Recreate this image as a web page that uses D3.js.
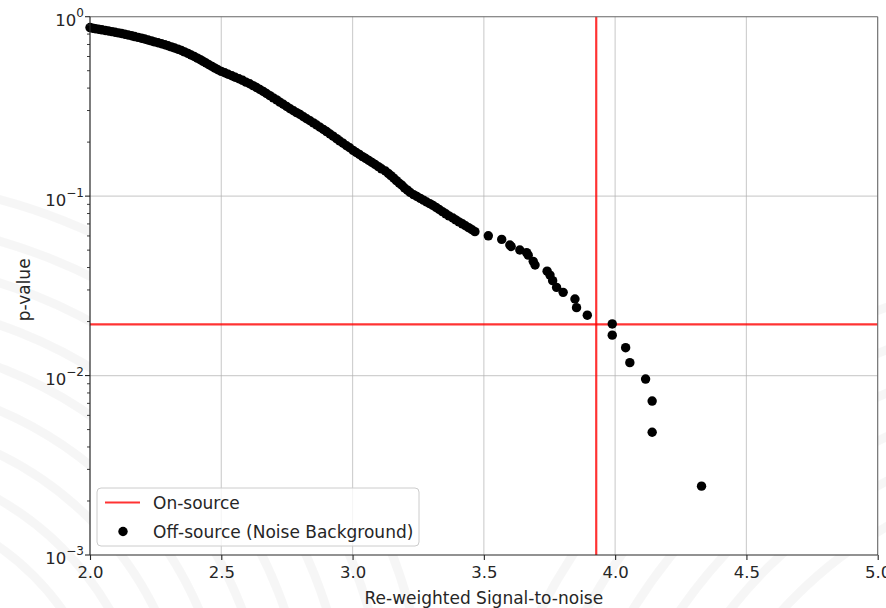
<!DOCTYPE html>
<html><head><meta charset="utf-8">
<script src="https://cdn.jsdelivr.net/npm/d3@7"></script>
<style>html,body{margin:0;padding:0;background:#fff;}svg{display:block;font-family:"DejaVu Sans",sans-serif;}</style>
</head><body>
<svg id="chart" width="886" height="608"></svg>
<script>
// Off-source (noise background) points: re-weighted SNR and p-value
const snrValues = [
2.000,2.010,2.020,2.032,2.045,2.058,2.070,2.083,2.095,2.108,2.120,
2.132,2.145,2.158,2.170,2.183,2.196,2.208,2.221,2.234,2.246,
2.259,2.272,2.285,2.297,2.310,2.322,2.335,2.348,2.360,2.373,
2.385,2.397,2.409,2.420,2.431,2.442,2.453,2.465,2.476,2.487,
2.500,2.513,2.526,2.540,2.553,2.567,2.581,2.594,2.608,2.621,
2.634,2.647,2.660,2.672,2.685,2.698,2.711,2.723,2.736,2.749,
2.762,2.775,2.787,2.800,2.813,2.825,2.838,2.851,2.863,2.876,
2.889,2.901,2.914,2.926,2.939,2.951,2.964,2.977,2.989,3.002,
3.014,3.026,3.038,3.050,3.062,3.074,3.086,3.098,3.110,
3.125,3.136,3.146,3.157,3.167,3.178,3.188,3.198,3.209,3.219,
3.232,3.245,3.258,3.270,3.282,3.294,3.306,
3.318,3.330,3.342,3.355,3.367,
3.382,3.393,3.405,3.418,3.430,3.442,3.455,3.466,
3.517,3.568,3.599,3.604,3.637,3.663,3.669,3.688,3.695,3.741,3.752,3.762,3.777,3.802,
3.847,3.853,3.894,3.989,3.989,4.040,4.056,4.116,4.141,4.141,4.329
];
const pValues = [
0.870,0.863,0.857,0.851,0.845,0.838,0.832,0.826,0.819,0.813,0.806,
0.799,0.791,0.783,0.775,0.767,0.759,0.751,0.742,0.733,0.724,
0.716,0.707,0.698,0.689,0.679,0.669,0.659,0.648,0.637,0.625,
0.612,0.600,0.588,0.576,0.564,0.552,0.540,0.528,0.517,0.506,
0.496,0.487,0.478,0.469,0.460,0.451,0.442,0.432,0.423,0.413,
0.403,0.393,0.383,0.373,0.363,0.353,0.344,0.334,0.325,0.316,
0.307,0.299,0.292,0.285,0.277,0.270,0.263,0.256,0.249,0.242,
0.235,0.229,0.222,0.216,0.209,0.203,0.197,0.191,0.186,0.180,
0.175,0.171,0.166,0.162,0.158,0.154,0.150,0.146,0.142,
0.138,0.134,0.130,0.126,0.122,0.118,0.115,0.111,0.108,0.105,
0.102,0.0995,0.0972,0.0950,0.0928,0.0908,0.0888,
0.0865,0.0842,0.0820,0.0797,0.0776,
0.0755,0.0737,0.0719,0.0701,0.0684,0.0667,0.0650,0.0634,
0.0601,0.0574,0.0534,0.0524,0.0501,0.0484,0.0469,0.0433,0.0413,0.0382,0.0363,0.0338,0.0310,0.0291,
0.0267,0.0239,0.0217,0.0194,0.0168,0.0143,0.0118,0.00956,0.00721,0.00483,0.00242
];
// On-source result
const onSourceSNR = [3.928];
const onSourceP = [0.0193];
const xTicks = [2.0, 2.5, 3.0, 3.5, 4.0, 4.5, 5.0];
const yTickExps = [0, -1, -2, -3];
const legendLabels = ["On-source", "Off-source (Noise Background)"];

const svg = d3.select("#chart");
const W = 886, H = 608;
const m = {left: 90, top: 16.7, right: 886 - 877.7, bottom: 608 - 555};
const iw = W - m.left - m.right, ih = H - m.top - m.bottom;
const ink = "#262626";

// faint background watermark swirl
const bg = svg.append("g");
const arcs = [[-150, 760, 260], [-150, 760, 300], [-150, 760, 340], [-150, 760, 380], [-150, 760, 420], [-150, 760, 460], [-150, 760, 500], [-150, 760, 540], [-150, 760, 580],
  [1100, 900, 430], [1100, 900, 470], [1100, 900, 510], [1100, 900, 550], [1100, 900, 590], [1100, 900, 630]];
arcs.forEach(a => bg.append("circle").attr("cx", a[0]).attr("cy", a[1]).attr("r", a[2])
  .attr("fill", "none").attr("stroke", "#000").attr("stroke-opacity", 0.035).attr("stroke-width", 9));

const x = d3.scaleLinear().domain([2, 5]).range([0, iw]);
const y = d3.scaleLog().domain([1e-3, 1]).range([ih, 0]);

const g = svg.append("g").attr("transform", `translate(${m.left},${m.top})`);
g.append("rect").attr("width", iw).attr("height", ih).attr("fill", "#fff");

// grid
g.append("g").selectAll("line").data(xTicks.slice(1, -1)).join("line")
  .attr("x1", d => x(d)).attr("x2", d => x(d)).attr("y1", 0).attr("y2", ih)
  .attr("stroke", "#b0b0b0").attr("stroke-opacity", 0.6).attr("stroke-width", 1.2);
g.append("g").selectAll("line").data(yTickExps.slice(1, -1)).join("line")
  .attr("y1", d => y(Math.pow(10, d))).attr("y2", d => y(Math.pow(10, d))).attr("x1", 0).attr("x2", iw)
  .attr("stroke", "#b0b0b0").attr("stroke-opacity", 0.6).attr("stroke-width", 1.2);

// on-source lines
g.append("line").attr("x1", x(onSourceSNR[0])).attr("x2", x(onSourceSNR[0])).attr("y1", 0).attr("y2", ih)
  .attr("stroke", "#ff0000").attr("stroke-opacity", 0.8).attr("stroke-width", 2.2);
g.append("line").attr("y1", y(onSourceP[0])).attr("y2", y(onSourceP[0])).attr("x1", 0).attr("x2", iw)
  .attr("stroke", "#ff0000").attr("stroke-opacity", 0.8).attr("stroke-width", 2.2);

// points
const pts = snrValues.map((s, i) => ({s, p: pValues[i]}));
g.append("g").selectAll("circle").data(pts).join("circle")
  .attr("cx", d => x(d.s)).attr("cy", d => y(d.p)).attr("r", 4.7).attr("fill", "#000");

// spines
g.append("line").attr("x1", 0).attr("x2", iw).attr("y1", 0).attr("y2", 0).attr("stroke", "#666").attr("stroke-width", 1.1);
g.append("line").attr("x1", iw).attr("x2", iw).attr("y1", 0).attr("y2", ih).attr("stroke", "#666").attr("stroke-width", 1.1);
g.append("line").attr("x1", 0).attr("x2", 0).attr("y1", 0).attr("y2", ih).attr("stroke", ink).attr("stroke-width", 1.2);
g.append("line").attr("x1", 0).attr("x2", iw).attr("y1", ih).attr("y2", ih).attr("stroke", ink).attr("stroke-width", 1.2);

// x axis
const xAxis = d3.axisBottom(x).tickValues(xTicks).tickFormat(d3.format(".1f")).tickSize(5).tickPadding(6);
const xa = g.append("g").attr("transform", `translate(0,${ih})`).call(xAxis);
xa.select(".domain").remove();
xa.selectAll("line").attr("stroke", ink).attr("stroke-width", 1.1);
xa.selectAll("text").attr("font-size", 16.5).attr("fill", ink).attr("font-family", "DejaVu Sans");

// y axis: major + minor log ticks
const minor = [];
for (let e = -3; e < 0; e++) for (let k = 2; k <= 9; k++) minor.push(k * Math.pow(10, e));
g.append("g").selectAll("line").data(minor).join("line")
  .attr("x1", -3).attr("x2", 0).attr("y1", d => y(d)).attr("y2", d => y(d)).attr("stroke", ink).attr("stroke-width", 0.9);
g.append("g").selectAll("line").data(yTickExps).join("line")
  .attr("x1", -5).attr("x2", 0).attr("y1", d => y(Math.pow(10, d))).attr("y2", d => y(Math.pow(10, d))).attr("stroke", ink).attr("stroke-width", 1.1);
const yl = g.append("g").selectAll("text").data(yTickExps).join("text")
  .attr("x", -6).attr("y", d => y(Math.pow(10, d)) + 9.5).attr("text-anchor", "end")
  .attr("font-size", 16.5).attr("fill", ink);
yl.append("tspan").text("10");
yl.append("tspan").attr("dy", -9).attr("font-size", 12).text(d => d === 0 ? "0" : "\u2212" + (-d));

// axis labels
svg.append("text").attr("x", m.left + iw / 2).attr("y", 604).attr("text-anchor", "middle")
  .attr("font-size", 17).attr("fill", ink).text("Re-weighted Signal-to-noise");
svg.append("text").attr("transform", `translate(30,${m.top + ih / 2 + 4}) rotate(-90)`).attr("text-anchor", "middle")
  .attr("font-size", 17).attr("fill", ink).text("p-value");

// legend
const lg = svg.append("g").attr("transform", "translate(97,488)");
lg.append("rect").attr("width", 322).attr("height", 58).attr("rx", 4).attr("fill", "#fff").attr("fill-opacity", 0.8)
  .attr("stroke", "#ccc").attr("stroke-width", 1);
lg.append("line").attr("x1", 8).attr("x2", 43).attr("y1", 14.5).attr("y2", 14.5).attr("stroke", "#ff0000").attr("stroke-opacity", 0.8).attr("stroke-width", 2.2);
lg.append("circle").attr("cx", 26).attr("cy", 43.5).attr("r", 4.7).attr("fill", "#000");
lg.selectAll("text.lt").data(legendLabels).join("text").attr("class", "lt")
  .attr("x", 56).attr("y", (d, i) => 20.5 + i * 29).attr("font-size", 17).attr("fill", ink).text(d => d);
</script>
</body></html>
